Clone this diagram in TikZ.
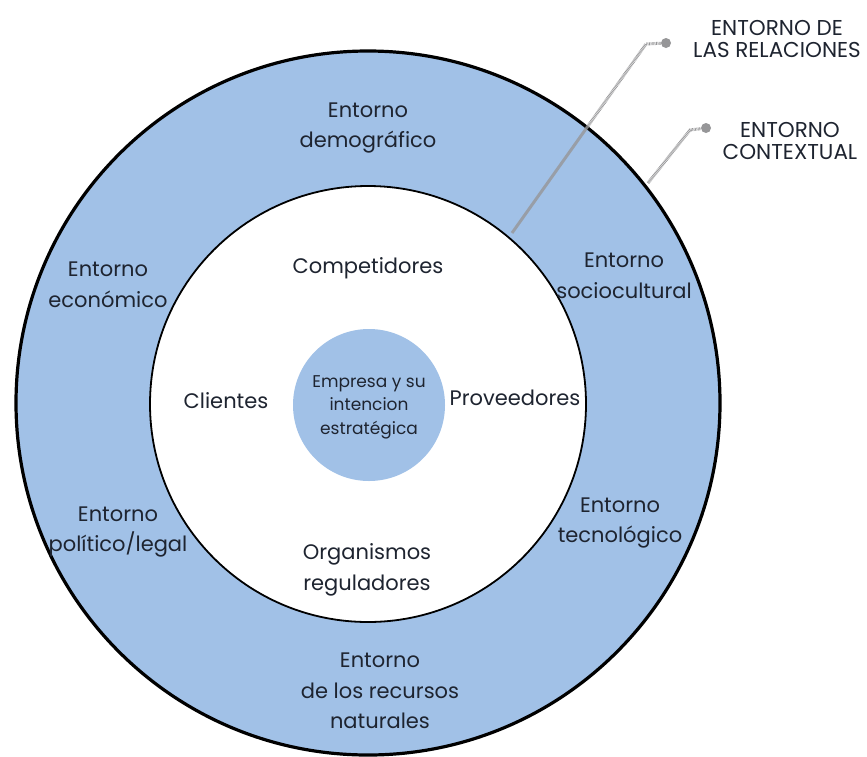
\documentclass[tikz,border=0pt]{standalone}
\usepackage{fontspec}
\setmainfont{Poppins}
\usepackage{xcolor}
\usetikzlibrary{positioning}
\definecolor{ringblue}{RGB}{161,193,231}
\definecolor{inkdark}{RGB}{30,36,48}
\definecolor{leadgray}{RGB}{150,150,152}
\tikzset{
	ringtext/.style={align=center, text=inkdark, font=\fontsize{21}{30.5}\selectfont, inner sep=0pt},
	coretext/.style={align=center, text=inkdark, font=\fontsize{17}{23.5}\selectfont, inner sep=0pt},
	captext/.style={align=center, text=inkdark, font=\fontsize{21.5}{22}\selectfont, inner sep=0pt},
	hatchline/.style={leadgray, line width=3pt, dash pattern=on 0.7pt off 0.7pt},
	leaddot/.style={circle, fill=leadgray, minimum size=10pt, inner sep=0pt}
}
\begin{document}
\begin{tikzpicture}[x=1pt, y=-1pt]
				\useasboundingbox (0,0) rectangle (867,756);
				\node[circle, draw, line width=3.2pt, fill=ringblue, minimum size=704pt, inner sep=0pt] (outer) at (368,403) {};
				\node[circle, draw, line width=1.8pt, fill=white, minimum size=436pt, inner sep=0pt] (inner) at (368,404) {};
				\node[circle, fill=ringblue, minimum size=152pt, inner sep=0pt] (core) at (369,405) {};
		
				\coordinate (relstart) at (512,233);
				\coordinate (relcross) at (588,126);
				\coordinate (relbend) at (646,44);
				\coordinate (ctxstart) at (648,183);
				\coordinate (ctxbend) at (690,130);
				\node[leaddot] (reldot) at (666,43) {};
				\node[leaddot] (ctxdot) at (706,128) {};
		
				\draw[leadgray, line width=3pt, opacity=.8] (relstart) -- (relcross);
				\draw[hatchline] (relcross) -- (relbend) -- (reldot);
				\draw[hatchline] (ctxstart) -- (ctxbend) -- (ctxdot);
		
				\node[ringtext] (demo) at (368,128) {Entorno\\demográfico};
				\node[ringtext] (econ) at (108,285) {Entorno\\económico};
				\node[ringtext] (socio) at (624,276) {Entorno\\sociocultural};
				\node[ringtext] (poli) at (118,532) {Entorno\\político/legal};
				\node[ringtext] (tecno) at (620,523) {Entorno\\tecnológico};
				\node[ringtext] (recur) at (380,691) {Entorno\\de los recursos\\naturales};
		
				\node[ringtext] (comp) at (368,268) {Competidores};
				\node[ringtext] (clien) at (226,401) {Clientes};
				\node[ringtext] (prov) at (515,398) {Proveedores};
				\node[ringtext] (orga) at (367,570) {Organismos\\reguladores};
				\node[coretext] (empr) at (369,407) {Empresa y su\\intencion\\estratégica};
		
				\node[captext] (rellab) at (777,39) {ENTORNO DE\\LAS RELACIONES};
				\node[captext] (ctxlab) at (790,141) {ENTORNO\\CONTEXTUAL};
			\end{tikzpicture}
\end{document}
